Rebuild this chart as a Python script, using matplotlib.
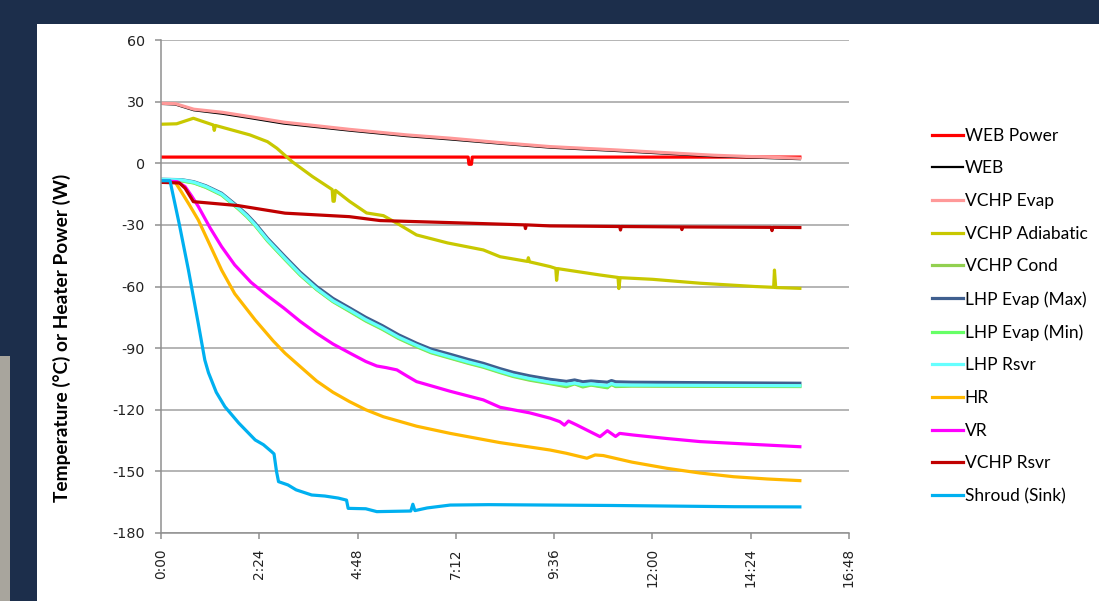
import matplotlib
matplotlib.use("Agg")
import matplotlib.pyplot as plt
from matplotlib.patches import Rectangle
import numpy as np

# time in hours since start, values in deg C (or W for heater power)
t_power = [0, 7.50, 7.52, 7.58, 7.60, 15.6]
web_power = [3, 3, -0.5, -0.5, 3, 3]

t_evap = [0, 0.35, 0.8, 1.5, 2.2, 3.0, 4.6, 6.0, 7.06, 8.3, 9.5, 11.0, 12.0, 13.5, 15.6]
vchp_evap = [29.2, 29.0, 26.3, 24.8, 22.6, 20.0, 16.5, 13.8, 12.2, 10.0, 8.1, 6.6, 5.5, 3.9, 2.4]
web = [28.9, 28.6, 25.8, 24.1, 21.9, 19.3, 15.9, 13.2, 11.6, 9.5, 7.6, 6.1, 5.0, 3.4, 2.0]

t_adiab = [0, 0.38, 0.79, 1.28, 1.30, 1.33, 2.17, 2.6, 2.83, 3.2, 3.7, 4.18, 4.20, 4.23, 4.26,
           4.6, 5.02, 5.43, 5.76, 6.24, 7.0, 7.87, 8.28, 8.95, 8.97, 9.0, 9.5, 9.64, 9.66, 9.69,
           10.72, 11.16, 11.18, 11.21, 12.0, 13.16, 14.5, 14.96, 14.98, 15.01, 15.6]
vchp_adiab = [19, 19.2, 21.9, 18.6, 16.0, 18.4, 13.8, 10.5, 7.3, 0.8, -6.5, -12.8, -18.5, -18.5, -13.2,
              -18.5, -24.2, -25.5, -29.2, -34.9, -38.8, -42.2, -45.5, -47.8, -46.0, -48.0, -50.3, -51.2, -57.0, -51.3,
              -54.4, -55.6, -61.0, -55.7, -56.5, -58.4, -60.0, -60.4, -52.0, -60.5, -60.9]

t_rsvr = [0, 0.45, 0.59, 0.79, 1.88, 3.03, 4.6, 5.35, 7.06, 8.88, 8.9, 8.92, 9.5, 11.2, 11.22, 11.24,
          12.0, 12.7, 12.72, 12.74, 14.9, 14.92, 14.94, 15.6]
vchp_rsvr = [-9.3, -9.6, -12.2, -18.7, -20.6, -24.3, -26.0, -27.9, -28.9, -30.0, -31.8, -30.0, -30.5, -30.8, -32.5, -30.8,
             -30.9, -31.0, -32.3, -31.0, -31.2, -32.8, -31.2, -31.3]

t_lhp = [0, 0.5, 0.8, 1.1, 1.48, 1.88, 2.1, 2.3, 2.6, 3.03, 3.4, 3.8, 4.2, 4.62, 5.0, 5.4, 5.8, 6.24,
         6.6, 7.06, 7.5, 7.87, 8.28, 8.6, 9.0, 9.5, 9.9, 10.1, 10.3, 10.5, 10.9, 11.0, 11.1, 11.5, 13.0, 15.6]
lhp_max = [-7.8, -8.0, -9.0, -11.0, -14.6, -21.1, -25.0, -29.2, -36.5, -45.5, -53.0, -60.0, -65.8, -70.6, -75.0, -79.0, -83.5, -87.6,
           -90.5, -93.0, -95.5, -97.4, -100.0, -101.8, -103.5, -105.2, -106.2, -105.5, -106.4, -106.0, -106.6, -105.8, -106.4, -106.6, -106.8, -107.1]
lhp_min = [-8.3, -8.5, -9.5, -11.6, -15.3, -21.9, -25.9, -30.2, -37.6, -46.7, -54.3, -61.3, -67.2, -72.0, -76.5, -80.5, -85.0, -89.0,
           -92.0, -94.6, -97.1, -99.0, -101.6, -103.5, -105.2, -107.0, -108.3, -107.2, -108.5, -107.8, -109.0, -107.5, -108.4, -108.2, -108.3, -108.4]
lhp_rsvr = [-7.8, -8.1, -9.2, -11.3, -15.0, -21.6, -25.6, -29.9, -37.2, -46.3, -53.9, -61.0, -66.9, -71.6, -76.1, -80.1, -84.6, -88.6,
            -91.6, -94.2, -96.7, -98.6, -101.2, -103.1, -104.8, -106.6, -107.6, -107.0, -107.8, -107.4, -108.2, -107.2, -107.9, -108.0, -108.1, -108.3]
vchp_cond = [-8.4, -8.6, -9.6, -11.8, -15.5, -22.1, -26.1, -30.4, -37.8, -46.9, -54.5, -61.5, -67.4, -72.3, -76.8, -80.8, -85.3, -89.3,
             -92.3, -94.9, -97.4, -99.3, -101.9, -103.8, -105.6, -107.3, -108.8, -107.4, -108.9, -108.0, -109.3, -107.7, -108.7, -108.5, -108.6, -108.7]

t_vr = [0, 0.4, 0.59, 0.75, 0.91, 1.2, 1.48, 1.8, 2.2, 2.6, 3.0, 3.4, 3.8, 4.2, 4.62, 5.0, 5.27, 5.5, 5.76, 6.0,
        6.24, 7.06, 7.87, 8.28, 9.0, 9.5, 9.74, 9.85, 9.95, 10.15, 10.72, 10.9, 11.1, 11.2, 11.53, 12.35, 13.16, 14.4, 15.6]
vr = [-8.5, -9.0, -11.4, -16.0, -21.0, -31.5, -40.6, -49.5, -58.0, -64.5, -70.5, -77.0, -82.8, -88.0, -92.5, -96.5, -98.7, -99.5, -100.6, -103.5,
      -106.3, -111.0, -115.2, -118.8, -121.5, -124.1, -125.8, -127.5, -125.5, -127.4, -133.1, -130.2, -133.0, -131.5, -132.3, -134.0, -135.5, -136.8, -138.0]

t_hr = [0, 0.34, 0.5, 0.7, 0.91, 1.2, 1.48, 1.8, 2.3, 2.74, 3.03, 3.4, 3.8, 4.2, 4.6, 5.0, 5.43, 6.24, 7.06, 7.87,
        8.28, 9.5, 9.9, 10.4, 10.6, 10.8, 11.5, 12.35, 13.16, 13.98, 14.8, 15.6]
hr = [-8.5, -9.0, -14.0, -20.5, -27.6, -40.0, -52.0, -63.5, -76.3, -86.5, -92.5, -99.0, -106.0, -111.5, -116.0, -120.0, -123.4, -128.0, -131.5, -134.5,
      -136.0, -139.6, -141.2, -143.6, -142.0, -142.3, -145.5, -148.5, -150.8, -152.6, -153.7, -154.5]

t_shroud = [0, 0.22, 0.45, 0.67, 0.91, 1.07, 1.16, 1.35, 1.56, 1.9, 2.3, 2.5, 2.7, 2.76, 2.82, 2.87, 3.1, 3.3,
            3.68, 4.0, 4.33, 4.53, 4.57, 5.0, 5.27, 6.1, 6.15, 6.2, 6.5, 7.06, 8.0, 9.5, 11.0, 12.5, 14.0, 15.6]
shroud = [-8.5, -8.5, -30.0, -52.0, -78.0, -95.8, -102.0, -111.5, -118.5, -126.5, -134.7, -137.0, -140.4, -141.5, -150.0, -155.0, -156.6, -159.0,
          -161.5, -162.0, -163.0, -164.0, -168.0, -168.2, -169.6, -169.3, -166.0, -169.1, -167.8, -166.4, -166.2, -166.4, -166.6, -166.9, -167.2, -167.3]

xtick_pos = [0, 2.4, 4.8, 7.2, 9.6, 12.0, 14.4, 16.8]
xtick_lab = ["0:00", "2:24", "4:48", "7:12", "9:36", "12:00", "14:24", "16:48"]
ytick_pos = [60, 30, 0, -30, -60, -90, -120, -150, -180]

fig = plt.figure(figsize=(10.99, 6.01), dpi=100)
fig.patch.set_facecolor("#1c2e4b")
fig.patches.append(Rectangle((37/1099, 0), 1, 1 - 24/601, transform=fig.transFigure,
                             facecolor="white", edgecolor="none", zorder=-10))
fig.patches.append(Rectangle((0, 0), 10/1099, 1 - 356/601, transform=fig.transFigure,
                             facecolor="#a8a59d", edgecolor="none", zorder=-10))

ax = fig.add_axes([161/1099, 1 - 533/601, 688/1099, 493/601])
ax.set_facecolor("none")

lw = 2.3
ax.plot(t_power, web_power, color="#ff0000", lw=lw, label="WEB Power")
ax.plot(t_evap, web, color="#000000", lw=1.6, label="WEB")
ax.plot(t_evap, vchp_evap, color="#ff9999", lw=lw, label="VCHP Evap")
ax.plot(t_adiab, vchp_adiab, color="#c8c800", lw=lw, label="VCHP Adiabatic")
ax.plot(t_lhp, vchp_cond, color="#92d050", lw=lw, label="VCHP Cond")
ax.plot(t_lhp, lhp_max, color="#3f5f8f", lw=lw, label="LHP Evap (Max)")
ax.plot(t_lhp, lhp_min, color="#66ff66", lw=lw, label="LHP Evap (Min)")
ax.plot(t_lhp, lhp_rsvr, color="#66ffff", lw=lw, label="LHP Rsvr")
ax.plot(t_hr, hr, color="#ffb800", lw=lw, label="HR")
ax.plot(t_vr, vr, color="#ff00ff", lw=lw, label="VR")
ax.plot(t_rsvr, vchp_rsvr, color="#c00000", lw=lw, label="VCHP Rsvr")
ax.plot(t_shroud, shroud, color="#00b0f0", lw=lw, label="Shroud (Sink)")

ax.set_xlim(0, 16.8)
ax.set_ylim(-180, 60)
ax.set_xticks(xtick_pos)
ax.set_xticklabels(xtick_lab, rotation=90, fontsize=9.8, family="DejaVu Sans", color="#222222")
ax.set_yticks(ytick_pos)
ax.set_yticklabels([str(v) for v in ytick_pos], fontsize=10.3, family="DejaVu Sans", color="#222222")
ax.grid(axis="y", color="#a0a0a0", lw=1.1)
ax.set_axisbelow(True)
for s in ["top", "right"]:
    ax.spines[s].set_visible(False)
for s in ["left", "bottom"]:
    ax.spines[s].set_color("#909090")
    ax.spines[s].set_linewidth(1.1)
ax.tick_params(axis="both", direction="out", length=4.5, color="#909090", width=1.1)
ax.tick_params(axis="y", pad=7)
ax.tick_params(axis="x", pad=6.5)

fig.text(62/1099, 1 - 337.5/601, "Temperature (°C) or Heater Power (W)", rotation=90,
         ha="center", va="center", fontsize=13.8, fontweight="bold", family="Lato")

fig.legend(loc="upper left", bbox_to_anchor=(916/1099, 1 - 112/601), frameon=False,
           prop={"family": "Lato", "size": 12.5}, handlelength=1.8, handletextpad=0.1,
           labelspacing=0.96)

fig.savefig("out.png", dpi=100, facecolor=fig.get_facecolor())
